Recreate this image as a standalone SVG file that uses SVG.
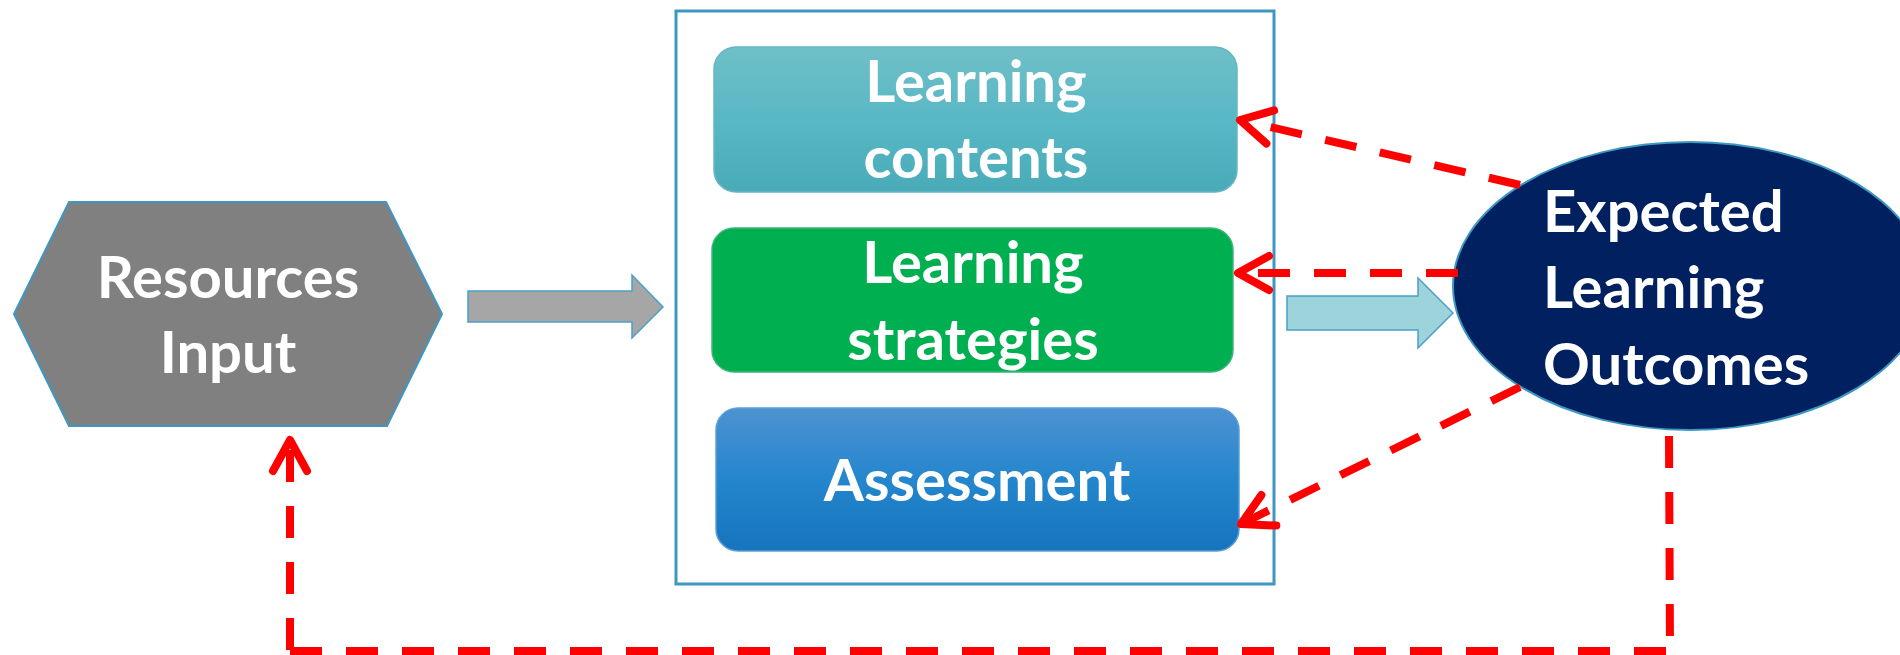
<svg xmlns="http://www.w3.org/2000/svg" width="1900" height="655" viewBox="0 0 1900 655">
  <style>
    .lbl { font-family: "Lato", "Open Sans", "Liberation Sans", sans-serif; font-weight: 700; font-size: 58px; fill: #ffffff; }
    .mid { text-anchor: middle; }
    .dash { fill: none; stroke: #ff0000; stroke-width: 8; stroke-dasharray: 32 24; }
    .blockarrow { stroke: #4aa0c8; stroke-width: 1.5; }
  </style>
  <defs>
    <linearGradient id="gContents" x1="0" y1="0" x2="0" y2="1">
      <stop offset="0" stop-color="#70bfc8"/>
      <stop offset="0.5" stop-color="#58b8c5"/>
      <stop offset="1" stop-color="#4aabb8"/>
    </linearGradient>
    <linearGradient id="gAssess" x1="0" y1="0" x2="0" y2="1">
      <stop offset="0" stop-color="#4d92d1"/>
      <stop offset="0.5" stop-color="#2486cd"/>
      <stop offset="1" stop-color="#1674bd"/>
    </linearGradient>
    <marker id="openArrow" markerUnits="userSpaceOnUse" orient="auto" refX="0" refY="0" markerWidth="60" markerHeight="60" overflow="visible">
      <path d="M-31,-17 L0,0 L-31,17" fill="none" stroke="#ff0000" stroke-width="8" stroke-linecap="round" stroke-linejoin="round" stroke-dasharray="none"/>
    </marker>
  </defs>

  <rect width="1900" height="655" fill="#ffffff"/>

  <g id="container">
    <rect x="676" y="11" width="598" height="573" fill="#ffffff" stroke="#3d97c0" stroke-width="3"/>
  </g>

  <g id="resources-input">
    <polygon points="69,202 386,202 442,314 387,426 69,426 14,314" fill="#808080" stroke="#3d97c0" stroke-width="2"/>
    <text class="lbl mid" x="228" y="298">Resources</text>
    <text class="lbl mid" x="228" y="373">Input</text>
  </g>

  <g id="learning-contents">
    <rect x="714" y="47" width="523" height="145" rx="22" ry="22" fill="url(#gContents)" stroke="#66b6c2" stroke-width="1.5"/>
    <text class="lbl mid" x="976" y="102">Learning</text>
    <text class="lbl mid" x="976" y="178">contents</text>
  </g>

  <g id="learning-strategies">
    <rect x="712" y="228" width="521" height="144" rx="22" ry="22" fill="#00b050" stroke="#3fb37a" stroke-width="1.5"/>
    <text class="lbl mid" x="973" y="283">Learning</text>
    <text class="lbl mid" x="973" y="360">strategies</text>
  </g>

  <g id="assessment">
    <rect x="716" y="408" width="523" height="143" rx="22" ry="22" fill="url(#gAssess)" stroke="#5a9fd6" stroke-width="1.5"/>
    <text class="lbl mid" x="977" y="501">Assessment</text>
  </g>

  <g id="expected-learning-outcomes">
    <ellipse cx="1690" cy="286" rx="237" ry="144" fill="#002060" stroke="#3d97c0" stroke-width="2"/>
    <text class="lbl" x="1543" y="232">Expected</text>
    <text class="lbl" x="1543" y="308">Learning</text>
    <text class="lbl" x="1543" y="385">Outcomes</text>
  </g>

  <g id="connectors">
    <polygon class="blockarrow" points="468,291 632,291 632,275 663,307 632,338 632,322 468,322" fill="#a6a6a6"/>
    <polygon class="blockarrow" points="1287,296 1418,296 1418,278 1453,313 1418,348 1418,330 1287,330" fill="#9dd3da"/>

    <path class="dash" d="M1520,185 L1240,120" marker-end="url(#openArrow)"/>
    <path class="dash" d="M1458,273 L1238,273" marker-end="url(#openArrow)"/>
    <path class="dash" d="M1520,387 L1241,524" marker-end="url(#openArrow)"/>

    <path class="dash" d="M1669,436 L1670,652"/>
    <path class="dash" d="M1666,651 L290,651"/>
    <path class="dash" d="M290,650 L290,440" marker-end="url(#openArrow)"/>
  </g>
</svg>
